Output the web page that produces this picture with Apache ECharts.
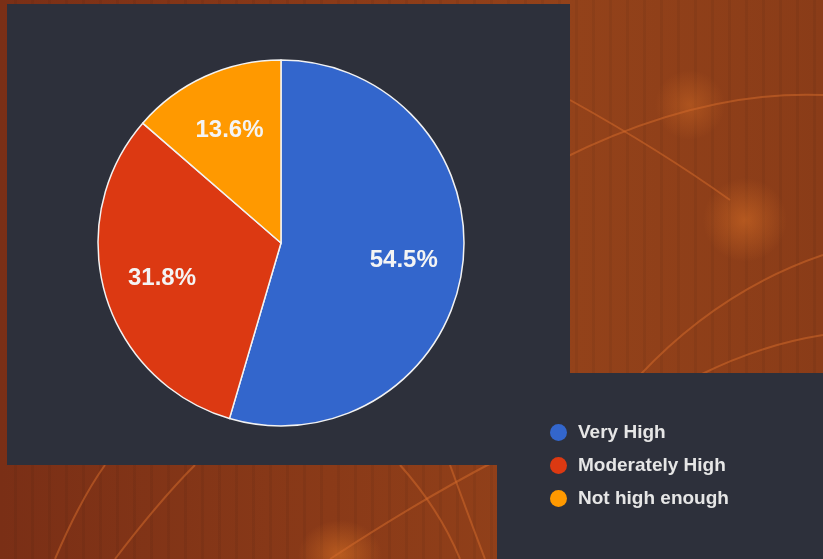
<!DOCTYPE html>
<html>
<head>
<meta charset="utf-8">
<script src="https://cdn.jsdelivr.net/npm/echarts@6/dist/echarts.min.js"></script>
<style>
html,body{margin:0;padding:0;width:823px;height:559px;overflow:hidden;}
body{position:relative;
background:
 radial-gradient(ellipse 60px 60px at 745px 220px, rgba(230,120,40,0.45), rgba(230,120,40,0) 70%),
 radial-gradient(ellipse 50px 50px at 690px 105px, rgba(230,120,40,0.35), rgba(230,120,40,0) 70%),
 radial-gradient(ellipse 60px 50px at 340px 555px, rgba(240,130,40,0.45), rgba(240,130,40,0) 70%),
 repeating-linear-gradient(90deg, rgba(0,0,0,0.00) 0px, rgba(0,0,0,0.00) 14px, rgba(0,0,0,0.05) 14px, rgba(0,0,0,0.05) 17px),
 linear-gradient(90deg, #7a2f16 0%, #8a3a18 40%, #93421a 70%, #8a3c18 100%);
}
.panel{position:absolute;background:#2d303b;}
#bg{position:absolute;left:0;top:0;}
#chart{position:absolute;left:0;top:0;width:823px;height:559px;}
</style>
</head>
<body>
<svg id="bg" width="823" height="559" xmlns="http://www.w3.org/2000/svg">
 <g fill="none" stroke="#d0682a" stroke-opacity="0.55" stroke-width="2">
  <path d="M560 160 Q 700 90 823 95"/>
  <path d="M570 100 Q 660 150 730 200"/>
  <path d="M640 375 Q 720 290 823 255"/>
  <path d="M700 375 Q 760 345 823 335"/>
  <path d="M55 559 Q 80 500 105 465"/>
  <path d="M115 559 Q 160 500 195 465"/>
  <path d="M330 559 Q 420 500 497 460"/>
  <path d="M400 465 Q 440 510 460 559"/>
  <path d="M450 465 Q 470 520 485 559"/>
 </g>
</svg>
<div class="panel" style="left:7px;top:4px;width:563px;height:461px;"></div>
<div class="panel" style="left:497px;top:373px;width:326px;height:186px;"></div>
<div id="chart"></div>
<script>
var categories = ['Very High', 'Moderately High', 'Not high enough'];
var values = [12, 7, 3];
var colors = ['#3366cc', '#dc3912', '#ff9900'];

var pieData = categories.map(function (c, i) {
  return { name: c, value: values[i], itemStyle: { color: colors[i] } };
});
var labelData = categories.map(function (c, i) {
  return { name: c, value: values[i] };
});

var chart = echarts.init(document.getElementById('chart'), null, { renderer: 'canvas' });
chart.setOption({
  backgroundColor: 'transparent',
  animation: false,
  legend: {
    orient: 'vertical',
    left: 550,
    top: 423,
    padding: 0,
    itemWidth: 17,
    itemHeight: 17,
    itemGap: 14,
    icon: 'circle',
    data: categories,
    itemStyle: { borderWidth: 0 },
    textStyle: {
      color: '#e6e6e6',
      fontSize: 19,
      fontWeight: 'bold',
      fontFamily: 'Liberation Sans, Arial, sans-serif',
      padding: [0, 0, 0, 6]
    }
  },
  series: [
    {
      type: 'pie',
      center: [281, 243],
      radius: [0, 183],
      startAngle: 90,
      clockwise: true,
      silent: true,
      label: { show: false },
      labelLine: { show: false },
      itemStyle: { borderColor: '#f2f2f2', borderWidth: 1.5 },
      data: pieData
    },
    {
      type: 'pie',
      center: [281, 243],
      radius: [59, 183],
      startAngle: 90,
      clockwise: true,
      silent: true,
      percentPrecision: 4,
      legendHoverLink: false,
      itemStyle: { color: 'rgba(0,0,0,0)', borderWidth: 0 },
      label: {
        show: true,
        position: 'inside',
        formatter: function (p) { return p.percent.toFixed(1) + '%'; },
        color: '#f4f4f4',
        fontSize: 24,
        fontWeight: 'bold',
        fontFamily: 'Liberation Sans, Arial, sans-serif'
      },
      labelLine: { show: false },
      data: labelData
    }
  ]
});
</script>
</body>
</html>
